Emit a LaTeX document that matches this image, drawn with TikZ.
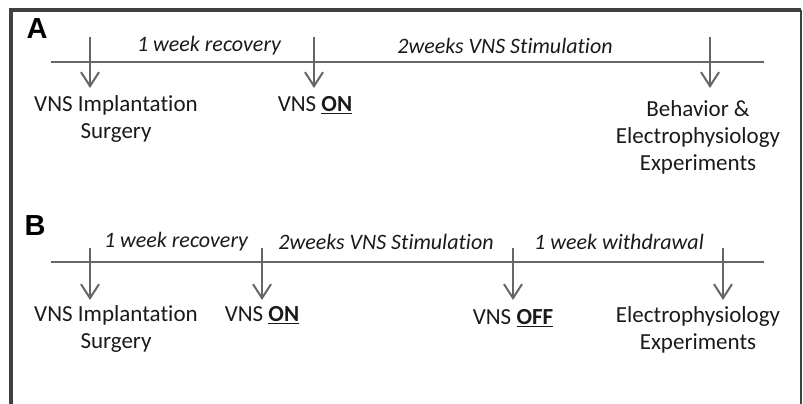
\documentclass[tikz,border=0pt]{standalone}
\usepackage{fontspec}
\setmainfont{Carlito}[Ligatures=NoCommon]
\newfontfamily\labfont{Liberation Sans}
\usetikzlibrary{arrows.meta}
\definecolor{framec}{HTML}{404040}
\definecolor{linec}{HTML}{666666}
\definecolor{txtc}{HTML}{1A1A1A}
\tikzset{
  frameline/.style={draw=framec, line width=3.5pt},
  tline/.style={draw=linec, line width=2pt},
  evarrow/.style={draw=linec, line width=2pt, -{Straight Barb[length=14pt,width=18pt,line width=2pt]}},
  evtext/.style={text=txtc, font=\fontsize{23}{27}\selectfont, align=center, inner sep=0pt, anchor=center},
  pertext/.style={text=txtc, font=\fontsize{22}{27}\selectfont\itshape, inner sep=0pt, anchor=center},
  panel/.style={text=black, font=\labfont\bfseries\fontsize{29}{29}\selectfont, inner sep=0pt}
}
\begin{document}
\begin{tikzpicture}[x=1pt,y=-1pt]
\useasboundingbox (0,0) rectangle (803,404);
% frame
\coordinate (f1) at (11,410);
\coordinate (f2) at (11,10);
\coordinate (f3) at (801,10);
\coordinate (f4) at (801,410);
\draw[frameline] (f1) -- (f2) -- (f3);
\draw[draw=framec, line width=2pt] (f3) -- (f4);

% ---------- Panel A ----------
\node[panel] (pa) at (37,29) {A};
\coordinate (la1) at (51,62);
\coordinate (la2) at (764,62);
\draw[tline] (la1) -- (la2);
\node[pertext] (ra1) at (209,46) {1 week recovery};
\node[pertext] (ra2) at (505,46) {2weeks VNS Stimulation};
\coordinate (a1s) at (90,37);  \coordinate (a1e) at (90,88);
\coordinate (a2s) at (314,37); \coordinate (a2e) at (314,88);
\coordinate (a3s) at (710,37); \coordinate (a3e) at (710,88);
\draw[evarrow] (a1s) -- (a1e);
\draw[evarrow] (a2s) -- (a2e);
\draw[evarrow] (a3s) -- (a3e);
\node[evtext] (ea1) at (116,119) {VNS Implantation\\Surgery};
\node[evtext] (ea2) at (315,105) {VNS \underline{\textbf{ON}}};
\node[evtext] (ea3) at (698,137) {Behavior \&\\Electrophysiology\\Experiments};

% ---------- Panel B ----------
\node[panel] (pb) at (35,226) {B};
\coordinate (lb1) at (51,262);
\coordinate (lb2) at (764,262);
\draw[tline] (lb1) -- (lb2);
\node[pertext] (rb1) at (176,242) {1 week recovery};
\node[pertext] (rb2) at (386,242) {2weeks VNS Stimulation};
\node[pertext] (rb3) at (619,242) {1 week withdrawal};
\coordinate (b1s) at (90,248);  \coordinate (b1e) at (90,300);
\coordinate (b2s) at (262,248); \coordinate (b2e) at (262,300);
\coordinate (b3s) at (513,248); \coordinate (b3e) at (513,300);
\coordinate (b4s) at (723,248); \coordinate (b4e) at (723,300);
\draw[evarrow] (b1s) -- (b1e);
\draw[evarrow] (b2s) -- (b2e);
\draw[evarrow] (b3s) -- (b3e);
\draw[evarrow] (b4s) -- (b4e);
\node[evtext] (eb1) at (116,329) {VNS Implantation\\Surgery};
\node[evtext] (eb2) at (262,315) {VNS \underline{\textbf{ON}}};
\node[evtext] (eb3) at (513,318) {VNS \underline{\textbf{OFF}}};
\node[evtext] (eb4) at (698,330) {Electrophysiology\\Experiments};
\end{tikzpicture}
\end{document}
